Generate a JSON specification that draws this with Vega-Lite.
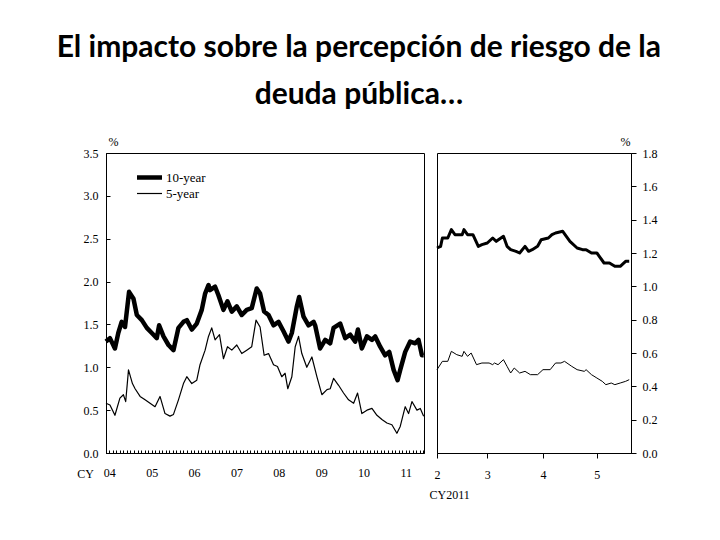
{
  "$schema": "https://vega.github.io/schema/vega-lite/v6.json",
  "background": "white",
  "padding": {"left": 56, "top": 32, "right": 10, "bottom": 10},
  "title": {
    "text": ["El impacto sobre la percepción de riesgo de la", "deuda pública…"],
    "font": "Lato", "fontSize": 30, "fontWeight": "bold", "lineHeight": 47,
    "anchor": "middle", "offset": 25, "dx": -8, "color": "black"
  },
  "config": {
    "font": "Liberation Serif",
    "view": {"stroke": "black", "strokeWidth": 1},
    "axis": {
      "labelFont": "Liberation Serif", "labelFontSize": 12, "labelColor": "black",
      "titleFont": "Liberation Serif", "titleFontSize": 12, "titleFontWeight": "normal", "titleColor": "black",
      "domainColor": "black", "tickColor": "black", "grid": false
    }
  },
  "datasets": {
    "hist": [
      {"date": "2003-12-03", "series": "10-year", "value": 1.30},
      {"date": "2004-01-06", "series": "10-year", "value": 1.34},
      {"date": "2004-02-18", "series": "10-year", "value": 1.22},
      {"date": "2004-03-18", "series": "10-year", "value": 1.40},
      {"date": "2004-04-16", "series": "10-year", "value": 1.53},
      {"date": "2004-05-15", "series": "10-year", "value": 1.47},
      {"date": "2004-06-19", "series": "10-year", "value": 1.88},
      {"date": "2004-07-27", "series": "10-year", "value": 1.80},
      {"date": "2004-08-25", "series": "10-year", "value": 1.61},
      {"date": "2004-10-07", "series": "10-year", "value": 1.55},
      {"date": "2004-11-19", "series": "10-year", "value": 1.46},
      {"date": "2005-01-01", "series": "10-year", "value": 1.40},
      {"date": "2005-02-13", "series": "10-year", "value": 1.34},
      {"date": "2005-03-05", "series": "10-year", "value": 1.49},
      {"date": "2005-04-12", "series": "10-year", "value": 1.36},
      {"date": "2005-05-25", "series": "10-year", "value": 1.26},
      {"date": "2005-07-07", "series": "10-year", "value": 1.20},
      {"date": "2005-08-19", "series": "10-year", "value": 1.46},
      {"date": "2005-10-01", "series": "10-year", "value": 1.53},
      {"date": "2005-10-30", "series": "10-year", "value": 1.55},
      {"date": "2005-12-12", "series": "10-year", "value": 1.44},
      {"date": "2006-01-24", "series": "10-year", "value": 1.51},
      {"date": "2006-03-08", "series": "10-year", "value": 1.67},
      {"date": "2006-04-06", "series": "10-year", "value": 1.86},
      {"date": "2006-05-05", "series": "10-year", "value": 1.96},
      {"date": "2006-05-18", "series": "10-year", "value": 1.90},
      {"date": "2006-07-01", "series": "10-year", "value": 1.94},
      {"date": "2006-07-30", "series": "10-year", "value": 1.84},
      {"date": "2006-09-11", "series": "10-year", "value": 1.67},
      {"date": "2006-10-16", "series": "10-year", "value": 1.77},
      {"date": "2006-11-22", "series": "10-year", "value": 1.65},
      {"date": "2007-01-04", "series": "10-year", "value": 1.71},
      {"date": "2007-02-16", "series": "10-year", "value": 1.61},
      {"date": "2007-03-31", "series": "10-year", "value": 1.67},
      {"date": "2007-05-13", "series": "10-year", "value": 1.69},
      {"date": "2007-06-25", "series": "10-year", "value": 1.92},
      {"date": "2007-07-24", "series": "10-year", "value": 1.86},
      {"date": "2007-08-28", "series": "10-year", "value": 1.65},
      {"date": "2007-10-05", "series": "10-year", "value": 1.61},
      {"date": "2007-11-17", "series": "10-year", "value": 1.49},
      {"date": "2007-12-30", "series": "10-year", "value": 1.53},
      {"date": "2008-02-11", "series": "10-year", "value": 1.42},
      {"date": "2008-03-25", "series": "10-year", "value": 1.30},
      {"date": "2008-04-23", "series": "10-year", "value": 1.40},
      {"date": "2008-06-05", "series": "10-year", "value": 1.71},
      {"date": "2008-06-25", "series": "10-year", "value": 1.82},
      {"date": "2008-08-02", "series": "10-year", "value": 1.59},
      {"date": "2008-09-14", "series": "10-year", "value": 1.49},
      {"date": "2008-10-28", "series": "10-year", "value": 1.53},
      {"date": "2008-11-10", "series": "10-year", "value": 1.49},
      {"date": "2008-12-23", "series": "10-year", "value": 1.22},
      {"date": "2009-02-05", "series": "10-year", "value": 1.32},
      {"date": "2009-03-20", "series": "10-year", "value": 1.28},
      {"date": "2009-04-18", "series": "10-year", "value": 1.46},
      {"date": "2009-06-14", "series": "10-year", "value": 1.51},
      {"date": "2009-07-27", "series": "10-year", "value": 1.34},
      {"date": "2009-09-09", "series": "10-year", "value": 1.38},
      {"date": "2009-10-22", "series": "10-year", "value": 1.30},
      {"date": "2009-11-14", "series": "10-year", "value": 1.44},
      {"date": "2009-12-18", "series": "10-year", "value": 1.22},
      {"date": "2010-01-31", "series": "10-year", "value": 1.36},
      {"date": "2010-03-15", "series": "10-year", "value": 1.32},
      {"date": "2010-04-12", "series": "10-year", "value": 1.36},
      {"date": "2010-05-25", "series": "10-year", "value": 1.24},
      {"date": "2010-07-07", "series": "10-year", "value": 1.14},
      {"date": "2010-08-11", "series": "10-year", "value": 1.18},
      {"date": "2010-09-18", "series": "10-year", "value": 0.97},
      {"date": "2010-10-22", "series": "10-year", "value": 0.85},
      {"date": "2010-11-14", "series": "10-year", "value": 0.97},
      {"date": "2010-12-27", "series": "10-year", "value": 1.18},
      {"date": "2011-02-08", "series": "10-year", "value": 1.30},
      {"date": "2011-03-23", "series": "10-year", "value": 1.28},
      {"date": "2011-04-21", "series": "10-year", "value": 1.32},
      {"date": "2011-05-20", "series": "10-year", "value": 1.14},
      {"date": "2011-06-04", "series": "10-year", "value": 1.14},
      {"date": "2003-12-03", "series": "5-year", "value": 0.58},
      {"date": "2004-01-06", "series": "5-year", "value": 0.56},
      {"date": "2004-02-18", "series": "5-year", "value": 0.44},
      {"date": "2004-04-01", "series": "5-year", "value": 0.64},
      {"date": "2004-05-01", "series": "5-year", "value": 0.68},
      {"date": "2004-05-21", "series": "5-year", "value": 0.60},
      {"date": "2004-06-14", "series": "5-year", "value": 0.97},
      {"date": "2004-07-18", "series": "5-year", "value": 0.81},
      {"date": "2004-08-10", "series": "5-year", "value": 0.75},
      {"date": "2004-09-22", "series": "5-year", "value": 0.66},
      {"date": "2004-11-04", "series": "5-year", "value": 0.62},
      {"date": "2004-12-17", "series": "5-year", "value": 0.58},
      {"date": "2005-01-29", "series": "5-year", "value": 0.54},
      {"date": "2005-03-13", "series": "5-year", "value": 0.66},
      {"date": "2005-04-25", "series": "5-year", "value": 0.46},
      {"date": "2005-06-07", "series": "5-year", "value": 0.43},
      {"date": "2005-07-07", "series": "5-year", "value": 0.45},
      {"date": "2005-08-19", "series": "5-year", "value": 0.62},
      {"date": "2005-10-01", "series": "5-year", "value": 0.81},
      {"date": "2005-10-30", "series": "5-year", "value": 0.89},
      {"date": "2005-12-12", "series": "5-year", "value": 0.81},
      {"date": "2006-01-24", "series": "5-year", "value": 0.85},
      {"date": "2006-02-21", "series": "5-year", "value": 1.03},
      {"date": "2006-04-06", "series": "5-year", "value": 1.20},
      {"date": "2006-05-05", "series": "5-year", "value": 1.36},
      {"date": "2006-06-02", "series": "5-year", "value": 1.46},
      {"date": "2006-07-01", "series": "5-year", "value": 1.32},
      {"date": "2006-08-08", "series": "5-year", "value": 1.38},
      {"date": "2006-09-11", "series": "5-year", "value": 1.10},
      {"date": "2006-10-16", "series": "5-year", "value": 1.24},
      {"date": "2006-11-22", "series": "5-year", "value": 1.20},
      {"date": "2007-01-04", "series": "5-year", "value": 1.26},
      {"date": "2007-02-16", "series": "5-year", "value": 1.16},
      {"date": "2007-03-31", "series": "5-year", "value": 1.20},
      {"date": "2007-05-13", "series": "5-year", "value": 1.24},
      {"date": "2007-06-19", "series": "5-year", "value": 1.55},
      {"date": "2007-07-24", "series": "5-year", "value": 1.47},
      {"date": "2007-08-28", "series": "5-year", "value": 1.14},
      {"date": "2007-10-05", "series": "5-year", "value": 1.16},
      {"date": "2007-11-17", "series": "5-year", "value": 1.03},
      {"date": "2007-12-21", "series": "5-year", "value": 1.01},
      {"date": "2008-01-27", "series": "5-year", "value": 0.89},
      {"date": "2008-02-25", "series": "5-year", "value": 0.93},
      {"date": "2008-03-19", "series": "5-year", "value": 0.75},
      {"date": "2008-04-23", "series": "5-year", "value": 0.89},
      {"date": "2008-05-22", "series": "5-year", "value": 1.24},
      {"date": "2008-06-20", "series": "5-year", "value": 1.36},
      {"date": "2008-07-18", "series": "5-year", "value": 1.16},
      {"date": "2008-08-30", "series": "5-year", "value": 1.00},
      {"date": "2008-10-13", "series": "5-year", "value": 1.12},
      {"date": "2008-11-25", "series": "5-year", "value": 0.89},
      {"date": "2009-01-07", "series": "5-year", "value": 0.68},
      {"date": "2009-02-20", "series": "5-year", "value": 0.74},
      {"date": "2009-03-20", "series": "5-year", "value": 0.75},
      {"date": "2009-04-18", "series": "5-year", "value": 0.87},
      {"date": "2009-05-31", "series": "5-year", "value": 0.79},
      {"date": "2009-07-13", "series": "5-year", "value": 0.70},
      {"date": "2009-08-25", "series": "5-year", "value": 0.62},
      {"date": "2009-10-08", "series": "5-year", "value": 0.58},
      {"date": "2009-11-11", "series": "5-year", "value": 0.70},
      {"date": "2009-12-18", "series": "5-year", "value": 0.46},
      {"date": "2010-01-31", "series": "5-year", "value": 0.50},
      {"date": "2010-03-15", "series": "5-year", "value": 0.52},
      {"date": "2010-04-27", "series": "5-year", "value": 0.44},
      {"date": "2010-06-09", "series": "5-year", "value": 0.39},
      {"date": "2010-07-22", "series": "5-year", "value": 0.35},
      {"date": "2010-09-03", "series": "5-year", "value": 0.33},
      {"date": "2010-10-16", "series": "5-year", "value": 0.23},
      {"date": "2010-11-14", "series": "5-year", "value": 0.31},
      {"date": "2010-12-27", "series": "5-year", "value": 0.54},
      {"date": "2011-01-25", "series": "5-year", "value": 0.46},
      {"date": "2011-02-23", "series": "5-year", "value": 0.60},
      {"date": "2011-04-07", "series": "5-year", "value": 0.50},
      {"date": "2011-05-06", "series": "5-year", "value": 0.52},
      {"date": "2011-06-04", "series": "5-year", "value": 0.43}
    ],
    "y2011": [
      {"date": "2011-02-01", "series": "10-year", "value": 1.23},
      {"date": "2011-02-03", "series": "10-year", "value": 1.24},
      {"date": "2011-02-04", "series": "10-year", "value": 1.29},
      {"date": "2011-02-07", "series": "10-year", "value": 1.29},
      {"date": "2011-02-09", "series": "10-year", "value": 1.34},
      {"date": "2011-02-11", "series": "10-year", "value": 1.31},
      {"date": "2011-02-15", "series": "10-year", "value": 1.31},
      {"date": "2011-02-16", "series": "10-year", "value": 1.34},
      {"date": "2011-02-18", "series": "10-year", "value": 1.31},
      {"date": "2011-02-21", "series": "10-year", "value": 1.31},
      {"date": "2011-02-24", "series": "10-year", "value": 1.24},
      {"date": "2011-02-26", "series": "10-year", "value": 1.25},
      {"date": "2011-03-01", "series": "10-year", "value": 1.26},
      {"date": "2011-03-04", "series": "10-year", "value": 1.29},
      {"date": "2011-03-06", "series": "10-year", "value": 1.27},
      {"date": "2011-03-10", "series": "10-year", "value": 1.30},
      {"date": "2011-03-12", "series": "10-year", "value": 1.24},
      {"date": "2011-03-14", "series": "10-year", "value": 1.22},
      {"date": "2011-03-17", "series": "10-year", "value": 1.21},
      {"date": "2011-03-19", "series": "10-year", "value": 1.20},
      {"date": "2011-03-22", "series": "10-year", "value": 1.24},
      {"date": "2011-03-24", "series": "10-year", "value": 1.21},
      {"date": "2011-03-26", "series": "10-year", "value": 1.22},
      {"date": "2011-03-29", "series": "10-year", "value": 1.24},
      {"date": "2011-03-31", "series": "10-year", "value": 1.28},
      {"date": "2011-04-04", "series": "10-year", "value": 1.29},
      {"date": "2011-04-06", "series": "10-year", "value": 1.31},
      {"date": "2011-04-08", "series": "10-year", "value": 1.32},
      {"date": "2011-04-12", "series": "10-year", "value": 1.33},
      {"date": "2011-04-16", "series": "10-year", "value": 1.27},
      {"date": "2011-04-20", "series": "10-year", "value": 1.23},
      {"date": "2011-04-23", "series": "10-year", "value": 1.22},
      {"date": "2011-04-25", "series": "10-year", "value": 1.22},
      {"date": "2011-04-28", "series": "10-year", "value": 1.20},
      {"date": "2011-05-01", "series": "10-year", "value": 1.20},
      {"date": "2011-05-05", "series": "10-year", "value": 1.14},
      {"date": "2011-05-08", "series": "10-year", "value": 1.14},
      {"date": "2011-05-11", "series": "10-year", "value": 1.12},
      {"date": "2011-05-14", "series": "10-year", "value": 1.12},
      {"date": "2011-05-17", "series": "10-year", "value": 1.15},
      {"date": "2011-05-19", "series": "10-year", "value": 1.15},
      {"date": "2011-02-01", "series": "5-year", "value": 0.50},
      {"date": "2011-02-04", "series": "5-year", "value": 0.55},
      {"date": "2011-02-07", "series": "5-year", "value": 0.55},
      {"date": "2011-02-09", "series": "5-year", "value": 0.61},
      {"date": "2011-02-12", "series": "5-year", "value": 0.59},
      {"date": "2011-02-15", "series": "5-year", "value": 0.58},
      {"date": "2011-02-16", "series": "5-year", "value": 0.61},
      {"date": "2011-02-18", "series": "5-year", "value": 0.58},
      {"date": "2011-02-20", "series": "5-year", "value": 0.60},
      {"date": "2011-02-23", "series": "5-year", "value": 0.53},
      {"date": "2011-02-26", "series": "5-year", "value": 0.54},
      {"date": "2011-03-02", "series": "5-year", "value": 0.54},
      {"date": "2011-03-04", "series": "5-year", "value": 0.53},
      {"date": "2011-03-05", "series": "5-year", "value": 0.54},
      {"date": "2011-03-07", "series": "5-year", "value": 0.53},
      {"date": "2011-03-10", "series": "5-year", "value": 0.56},
      {"date": "2011-03-12", "series": "5-year", "value": 0.52},
      {"date": "2011-03-14", "series": "5-year", "value": 0.48},
      {"date": "2011-03-16", "series": "5-year", "value": 0.51},
      {"date": "2011-03-19", "series": "5-year", "value": 0.48},
      {"date": "2011-03-22", "series": "5-year", "value": 0.49},
      {"date": "2011-03-25", "series": "5-year", "value": 0.47},
      {"date": "2011-03-29", "series": "5-year", "value": 0.47},
      {"date": "2011-04-01", "series": "5-year", "value": 0.50},
      {"date": "2011-04-05", "series": "5-year", "value": 0.50},
      {"date": "2011-04-08", "series": "5-year", "value": 0.54},
      {"date": "2011-04-11", "series": "5-year", "value": 0.54},
      {"date": "2011-04-13", "series": "5-year", "value": 0.55},
      {"date": "2011-04-17", "series": "5-year", "value": 0.52},
      {"date": "2011-04-20", "series": "5-year", "value": 0.50},
      {"date": "2011-04-24", "series": "5-year", "value": 0.49},
      {"date": "2011-04-25", "series": "5-year", "value": 0.50},
      {"date": "2011-04-28", "series": "5-year", "value": 0.47},
      {"date": "2011-05-01", "series": "5-year", "value": 0.45},
      {"date": "2011-05-04", "series": "5-year", "value": 0.43},
      {"date": "2011-05-06", "series": "5-year", "value": 0.41},
      {"date": "2011-05-09", "series": "5-year", "value": 0.42},
      {"date": "2011-05-11", "series": "5-year", "value": 0.41},
      {"date": "2011-05-14", "series": "5-year", "value": 0.42},
      {"date": "2011-05-17", "series": "5-year", "value": 0.43},
      {"date": "2011-05-19", "series": "5-year", "value": 0.44}
    ]
  },
  "spacing": 1,
  "hconcat": [
    {
      "width": 318,
      "height": 300,
      "data": {"name": "hist"},
      "mark": {"type": "line", "color": "black", "strokeJoin": "round"},
      "encoding": {
        "x": {
          "field": "date", "type": "temporal",
          "scale": {"type": "utc", "domain": [{"year": 2003, "month": 12, "date": 3, "utc": true}, {"year": 2011, "month": 6, "date": 7, "utc": true}]},
          "axis": {
            "title": "CY", "titleX": -21, "titleY": 24, "titleAlign": "center", "titleBaseline": "alphabetic",
            "tickCount": {"interval": "month", "step": 1},
            "labelExpr": "utcmonth(datum.value) == 0 ? utcFormat(datum.value, '%y') : ''",
            "labelFont": "Liberation Serif", "labelFontSize": 12,
            "tickSize": -3,
            "labelPadding": 17, "labelOverlap": false, "labelFlush": false
          }
        },
        "y": {
          "field": "value", "type": "quantitative",
          "scale": {"domain": [0, 3.5], "nice": false},
          "axis": {
            "title": "%", "titleAngle": 0, "titleX": 7, "titleY": -5, "titleAlign": "center", "titleBaseline": "bottom",
            "labelFont": "Liberation Serif", "labelFontSize": 12,
            "values": [0, 0.5, 1, 1.5, 2, 2.5, 3, 3.5], "format": ".1f", "tickSize": -4, "labelPadding": 12
          }
        },
        "strokeWidth": {
          "field": "series", "type": "ordinal",
          "scale": {"domain": ["10-year", "5-year"], "range": [4.5, 1.2]},
          "legend": {
            "orient": "none", "legendX": 36, "legendY": 17, "title": null,
            "symbolType": "M-2.5,0L2.5,0", "symbolSize": 100, "symbolStrokeColor": "black", "symbolFillColor": "transparent",
            "labelFont": "Liberation Serif", "labelFontSize": 13, "labelColor": "black",
            "rowPadding": 0, "labelOffset": 9
          }
        }
      }
    },
    {
      "width": 194,
      "height": 300,
      "data": {"name": "y2011"},
      "mark": {"type": "line", "color": "black", "strokeJoin": "round"},
      "encoding": {
        "x": {
          "field": "date", "type": "temporal",
          "scale": {"type": "utc", "domain": [{"year": 2011, "month": 2, "date": 1, "utc": true}, {"year": 2011, "month": 5, "date": 20, "utc": true}]},
          "axis": {
            "title": "CY2011", "titleX": -8, "titleY": 45, "titleAlign": "left", "titleBaseline": "alphabetic",
            "tickCount": {"interval": "month", "step": 1}, "format": "%-m",
            "labelFont": "Liberation Serif", "labelFontSize": 12,
            "tickSize": 5, "labelPadding": 11, "labelFlush": false
          }
        },
        "y": {
          "field": "value", "type": "quantitative",
          "scale": {"domain": [0, 1.8], "nice": false},
          "axis": {
            "orient": "right",
            "title": "%", "titleAngle": 0, "titleX": -6, "titleY": -5, "titleAlign": "center", "titleBaseline": "bottom",
            "labelFont": "Liberation Serif", "labelFontSize": 12,
            "values": [0, 0.2, 0.4, 0.6, 0.8, 1, 1.2, 1.4, 1.6, 1.8], "format": ".1f", "tickSize": 5, "labelPadding": 6
          }
        },
        "strokeWidth": {
          "field": "series", "type": "ordinal",
          "scale": {"domain": ["10-year", "5-year"], "range": [3, 1]},
          "legend": null
        }
      }
    }
  ],
  "resolve": {
    "scale": {"x": "independent", "y": "independent", "strokeWidth": "independent"},
    "legend": {"strokeWidth": "independent"}
  }
}
